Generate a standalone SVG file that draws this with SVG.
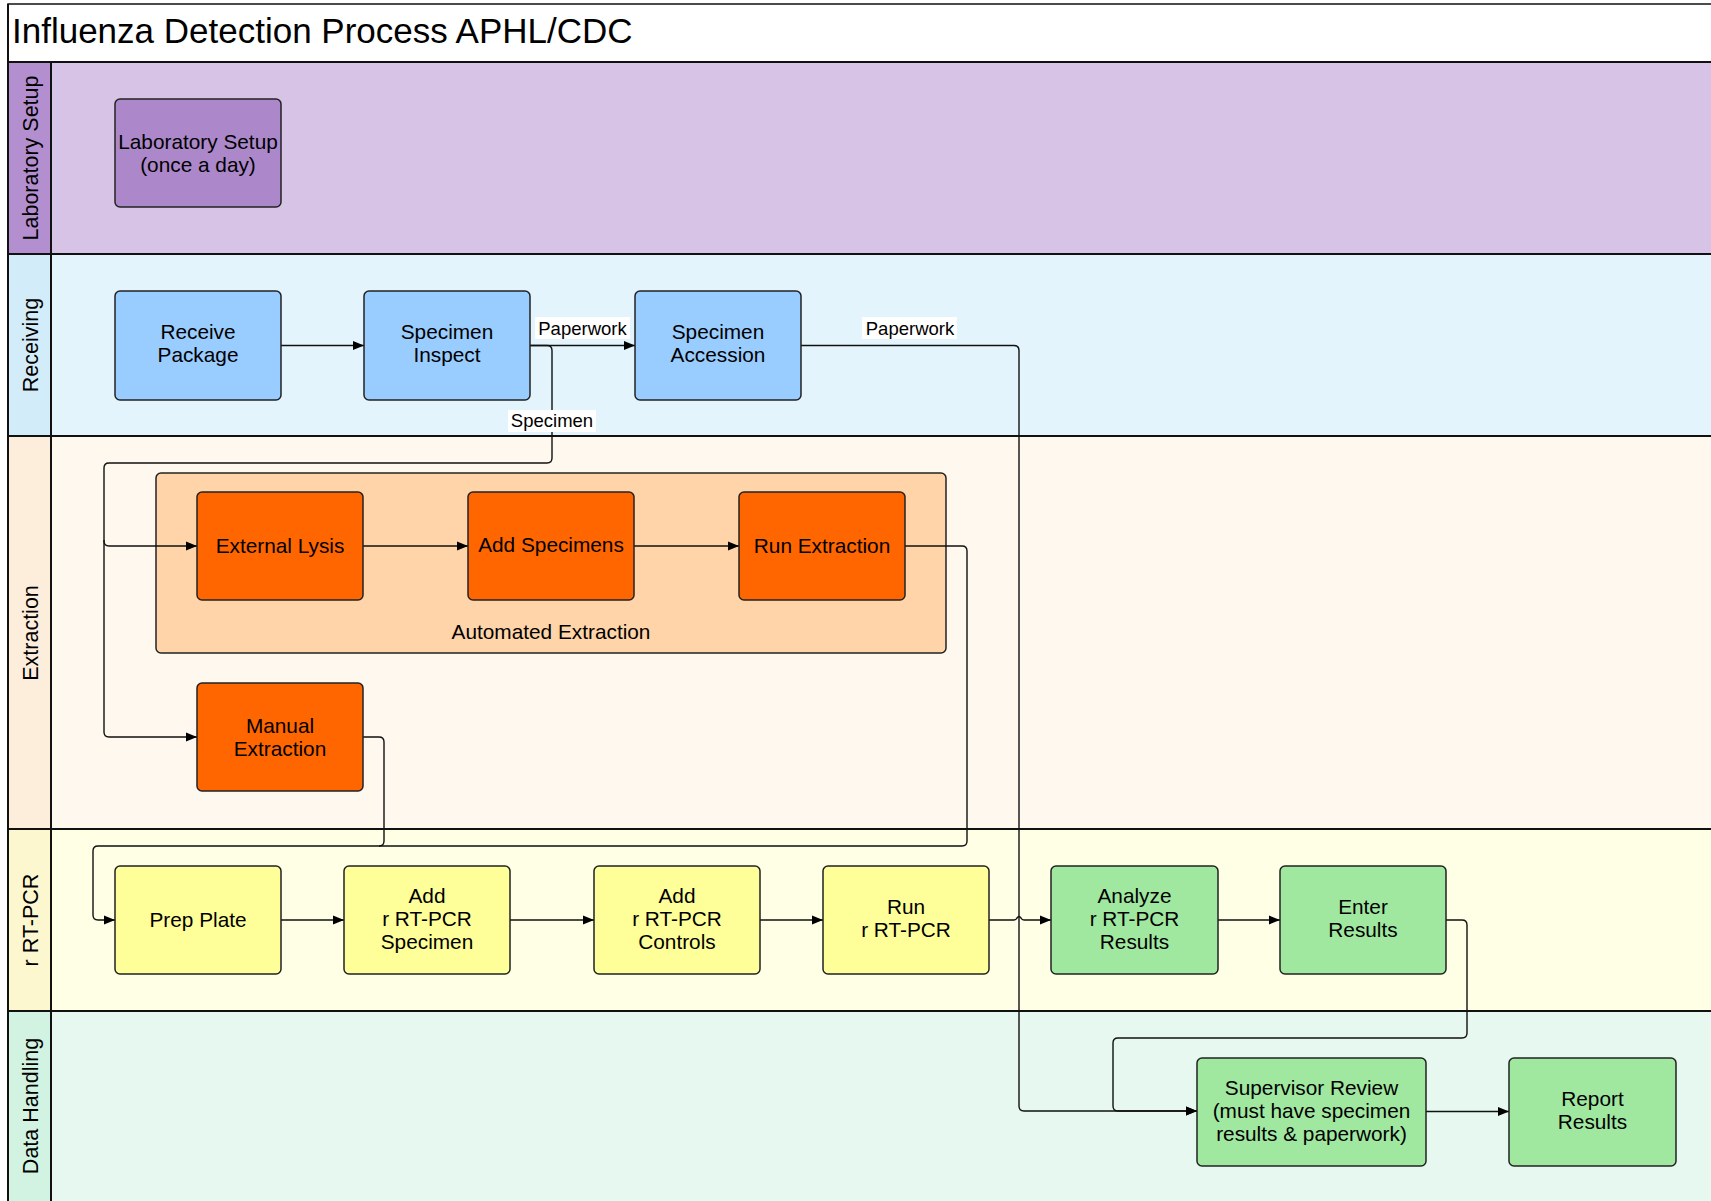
<svg xmlns="http://www.w3.org/2000/svg" width="1711" height="1201" viewBox="0 0 1711 1201">
<defs>
<marker id="arr" markerUnits="userSpaceOnUse" markerWidth="12" markerHeight="10" refX="11" refY="5" orient="auto">
<path d="M0,0.5 L11,5 L0,9.5 Z" fill="#000"/>
</marker>
<style>
text{font-family:"Liberation Sans",Arial,sans-serif;fill:#000}
.title{font-size:35px}
.lane{font-size:21.5px;text-anchor:middle}
.node rect{stroke:#222;stroke-width:1.5}
.node text{font-size:20.8px;text-anchor:middle}
.lbl{font-size:18.5px;text-anchor:middle}
.sep{stroke:#111;stroke-width:2;fill:none}
.conn path{fill:none;stroke:#111;stroke-width:1.4}
.a{marker-end:url(#arr)}
</style>
</defs>

<!-- background / title -->
<rect x="8" y="4" width="1710" height="1200" fill="#fff" stroke="#111" stroke-width="1.5"/>
<text class="title" x="12" y="43">Influenza Detection Process APHL/CDC</text>

<!-- lanes -->
<g id="lane-lab">
<rect x="51" y="62" width="1665" height="192" fill="#d7c3e6"/>
<rect x="8" y="62" width="43" height="192" fill="#b48fcf"/>
<text class="lane" transform="translate(38,158) rotate(-90)">Laboratory Setup</text>
</g>
<g id="lane-recv">
<rect x="51" y="254" width="1665" height="182" fill="#e3f4fc"/>
<rect x="8" y="254" width="43" height="182" fill="#d3ecf9"/>
<text class="lane" transform="translate(38,345) rotate(-90)">Receiving</text>
</g>
<g id="lane-ext">
<rect x="51" y="436" width="1665" height="393" fill="#fff8ee"/>
<rect x="8" y="436" width="43" height="393" fill="#fdeedc"/>
<text class="lane" transform="translate(38,633) rotate(-90)">Extraction</text>
</g>
<g id="lane-rt">
<rect x="51" y="829" width="1665" height="182" fill="#ffffe6"/>
<rect x="8" y="829" width="43" height="182" fill="#fdf7cf"/>
<text class="lane" transform="translate(38,920) rotate(-90)">r RT-PCR</text>
</g>
<g id="lane-data">
<rect x="51" y="1011" width="1665" height="195" fill="#e6f8ef"/>
<rect x="8" y="1011" width="43" height="195" fill="#d2f2e2"/>
<text class="lane" transform="translate(38,1106) rotate(-90)">Data Handling</text>
</g>
<g id="lane-lines">
<path class="sep" d="M8,62 H1711 M8,254 H1711 M8,436 H1711 M8,829 H1711 M8,1011 H1711 M51,62 V1201 M8,4 V1201"/>
</g>

<!-- Automated Extraction container -->
<g id="auto-extraction" class="node">
<rect x="156" y="473" width="790" height="180" rx="5" fill="#ffd4a8"/>
<text x="551" y="639">Automated Extraction</text>
</g>

<!-- connectors -->
<g id="connectors" class="conn">
<path class="a" d="M281,345.5 H364"/>
<path class="a" d="M530,345.5 H635"/>
<path class="a" d="M530,345.5 H547 Q552,345.5 552,350.5 V458 Q552,463 547,463 H109 Q104,463 104,468 V541 Q104,546 109,546 H197"/>
<path class="a" d="M104,540 V732 Q104,737 109,737 H197"/>
<path class="a" d="M801,345.5 H1014 Q1019,345.5 1019,350.5 V1106 Q1019,1111 1024,1111 H1197"/>
<path class="a" d="M363,546 H468"/>
<path class="a" d="M634,546 H739"/>
<path class="a" d="M905,546 H962 Q967,546 967,551 V841 Q967,846 962,846 H98 Q93,846 93,851 V915 Q93,920 98,920 H115"/>
<path d="M363,737 H379 Q384,737 384,742 V841 Q384,846 379,846"/>
<path class="a" d="M281,920 H344"/>
<path class="a" d="M510,920 H594"/>
<path class="a" d="M760,920 H823"/>
<path class="a" d="M989,920 H1014 Q1016,920 1017,918 Q1019,915 1021,918 Q1022,920 1024,920 H1051"/>
<path class="a" d="M1218,920 H1280"/>
<path class="a" d="M1446,920 H1462 Q1467,920 1467,925 V1033 Q1467,1038 1462,1038 H1118 Q1113,1038 1113,1043 V1106 Q1113,1111 1118,1111 H1197"/>
<path class="a" d="M1426,1111.5 H1509"/>
<rect x="535" y="317" width="95" height="22" fill="#fff"/>
<text class="lbl" x="582.5" y="335">Paperwork</text>
<rect x="862" y="317" width="95" height="22" fill="#fff"/>
<text class="lbl" x="910" y="335">Paperwork</text>
<rect x="508" y="410" width="88" height="22" fill="#fff"/>
<text class="lbl" x="552" y="427">Specimen</text>
</g>

<!-- nodes -->
<g id="lab-setup" class="node">
<rect x="115" y="99" width="166" height="108" rx="5" fill="#ac88cb"/>
<text x="198" y="149">Laboratory Setup</text>
<text x="198" y="172">(once a day)</text>
</g>
<g id="receive-package" class="node">
<rect x="115" y="291" width="166" height="109" rx="5" fill="#99ccff"/>
<text x="198" y="339">Receive</text>
<text x="198" y="362">Package</text>
</g>
<g id="specimen-inspect" class="node">
<rect x="364" y="291" width="166" height="109" rx="5" fill="#99ccff"/>
<text x="447" y="339">Specimen</text>
<text x="447" y="362">Inspect</text>
</g>
<g id="specimen-accession" class="node">
<rect x="635" y="291" width="166" height="109" rx="5" fill="#99ccff"/>
<text x="718" y="339">Specimen</text>
<text x="718" y="362">Accession</text>
</g>
<g id="external-lysis" class="node">
<rect x="197" y="492" width="166" height="108" rx="5" fill="#ff6600"/>
<text x="280" y="553">External Lysis</text>
</g>
<g id="add-specimens" class="node">
<rect x="468" y="492" width="166" height="108" rx="5" fill="#ff6600"/>
<text x="551" y="552">Add Specimens</text>
</g>
<g id="run-extraction" class="node">
<rect x="739" y="492" width="166" height="108" rx="5" fill="#ff6600"/>
<text x="822" y="553">Run Extraction</text>
</g>
<g id="manual-extraction" class="node">
<rect x="197" y="683" width="166" height="108" rx="5" fill="#ff6600"/>
<text x="280" y="733">Manual</text>
<text x="280" y="756">Extraction</text>
</g>
<g id="prep-plate" class="node">
<rect x="115" y="866" width="166" height="108" rx="5" fill="#ffff99"/>
<text x="198" y="927">Prep Plate</text>
</g>
<g id="add-specimen" class="node">
<rect x="344" y="866" width="166" height="108" rx="5" fill="#ffff99"/>
<text x="427" y="903">Add</text>
<text x="427" y="926">r RT-PCR</text>
<text x="427" y="949">Specimen</text>
</g>
<g id="add-controls" class="node">
<rect x="594" y="866" width="166" height="108" rx="5" fill="#ffff99"/>
<text x="677" y="903">Add</text>
<text x="677" y="926">r RT-PCR</text>
<text x="677" y="949">Controls</text>
</g>
<g id="run-rtpcr" class="node">
<rect x="823" y="866" width="166" height="108" rx="5" fill="#ffff99"/>
<text x="906" y="914">Run</text>
<text x="906" y="937">r RT-PCR</text>
</g>
<g id="analyze" class="node">
<rect x="1051" y="866" width="167" height="108" rx="5" fill="#a0e8a0"/>
<text x="1134.5" y="903">Analyze</text>
<text x="1134.5" y="926">r RT-PCR</text>
<text x="1134.5" y="949">Results</text>
</g>
<g id="enter-results" class="node">
<rect x="1280" y="866" width="166" height="108" rx="5" fill="#a0e8a0"/>
<text x="1363" y="914">Enter</text>
<text x="1363" y="937">Results</text>
</g>
<g id="supervisor-review" class="node">
<rect x="1197" y="1058" width="229" height="108" rx="5" fill="#a0e8a0"/>
<text x="1311.5" y="1095">Supervisor Review</text>
<text x="1311.5" y="1118">(must have specimen</text>
<text x="1311.5" y="1141">results &amp; paperwork)</text>
</g>
<g id="report-results" class="node">
<rect x="1509" y="1058" width="167" height="108" rx="5" fill="#a0e8a0"/>
<text x="1592.5" y="1106">Report</text>
<text x="1592.5" y="1129">Results</text>
</g>
</svg>
